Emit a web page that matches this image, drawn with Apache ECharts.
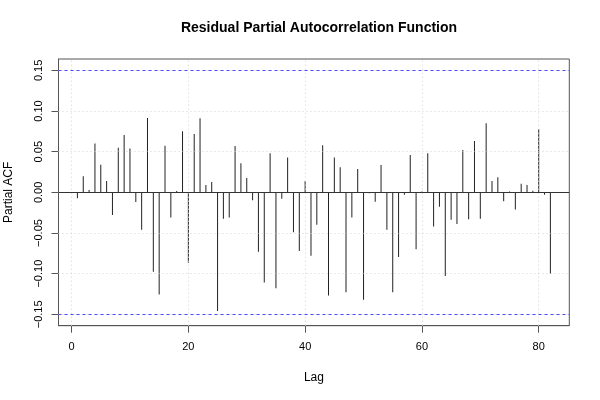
<!DOCTYPE html>
<html><head><meta charset="utf-8">
<script src="https://cdn.jsdelivr.net/npm/echarts@6/dist/echarts.min.js"></script>
<style>html,body{margin:0;padding:0;background:#fff}#c{width:600px;height:400px}</style>
</head><body><div id="c"></div>
<script>
const lags = [];
for (let i = 1; i <= 82; i++) lags.push(i);
const pacf = [
 -0.0074, 0.0197, 0.003, 0.060, 0.034, 0.014, -0.028, 0.055, 0.0705, 0.054,
 -0.012, -0.046, 0.0914, -0.0976, -0.1255, 0.0574, -0.031, 0.0016, 0.075, -0.0865,
 0.0718, 0.091, 0.009, 0.0127, -0.146, -0.0324, -0.031, 0.057, 0.0357, 0.0176,
 -0.0098, -0.073, -0.111, 0.048, -0.118, -0.0078, 0.043, -0.049, -0.072, 0.014,
 -0.078, -0.040, 0.058, -0.127, 0.043, 0.031, -0.123, -0.031, 0.0287, -0.132,
 -0.001, -0.0115, 0.0336, -0.046, -0.123, -0.0795, -0.003, 0.046, -0.070, 0.001,
 0.048, -0.042, -0.0176, -0.103, -0.0336, -0.039, 0.052, -0.033, 0.063, -0.0324,
 0.085, 0.014, 0.0185, -0.011, 0.001, -0.021, 0.0107, 0.009, 0.002, 0.078,
 -0.003, -0.100
];
const xTicks = [0, 20, 40, 60, 80];
const yTicks = [-0.15, -0.10, -0.05, 0.00, 0.05, 0.10, 0.15];
const ciBound = 0.152;

const fmtY = v => {
  const s = Math.abs(v).toFixed(2);
  return (v < -1e-9 ? '\u2212' : '') + s;
};
const gridLines = [];
xTicks.forEach(v => gridLines.push({xAxis: v}));
yTicks.forEach(v => gridLines.push({yAxis: v}));

const chart = echarts.init(document.getElementById('c'), null, {renderer: 'canvas'});
chart.setOption({
  animation: false,
  backgroundColor: '#fff',
  title: {
    text: 'Residual Partial Autocorrelation Function',
    left: 314, textAlign: 'center', top: 16,
    textStyle: {fontFamily: 'Liberation Sans', fontWeight: 'bold', fontSize: 14, color: '#000'}
  },
  grid: {left: 58.5, right: 30.7, top: 59, bottom: 74.3, containLabel: false, outerBoundsMode: 'none',
         show: true, borderColor: '#555', borderWidth: 1, backgroundColor: 'transparent'},
  xAxis: {
    type: 'value', min: -2.24, max: 85.24,
    name: 'Lag', nameLocation: 'middle', nameGap: 46,
    nameTextStyle: {fontFamily: 'Liberation Sans', fontSize: 12, color: '#000'},
    axisLine: {show: true, onZero: false, lineStyle: {color: '#555'}},
    axisTick: {show: true, length: 7, inside: false, customValues: xTicks, lineStyle: {color: '#555'}},
    axisLabel: {customValues: xTicks, margin: 16, fontFamily: 'Liberation Sans', fontSize: 11, color: '#000'},
    splitLine: {show: false}
  },
  yAxis: {
    type: 'value', min: -0.164, max: 0.164,
    name: 'Partial ACF', nameLocation: 'middle', nameGap: 44, nameRotate: 90,
    nameTextStyle: {fontFamily: 'Liberation Sans', fontSize: 12, color: '#000'},
    axisLine: {show: true, onZero: false, lineStyle: {color: '#555'}},
    axisTick: {show: true, length: 7, inside: false, customValues: yTicks, lineStyle: {color: '#555'}},
    axisLabel: {customValues: yTicks, rotate: 90, margin: 14, fontFamily: 'Liberation Sans', fontSize: 11, color: '#000', formatter: fmtY},
    splitLine: {show: false}
  },
  series: [
    {
      type: 'line', data: [], silent: true,
      markLine: {
        silent: true, symbol: 'none', label: {show: false},
        lineStyle: {color: '#d3d3d3', type: [1, 3], width: 1},
        data: gridLines
      }
    },
    {
      type: 'bar', barWidth: 1,
      data: lags.map((l, i) => [l, pacf[i]]),
      itemStyle: {color: '#222'},
      markLine: {
        silent: true, symbol: 'none', label: {show: false},
        data: [
          {yAxis: 0, lineStyle: {color: '#333', type: 'solid', width: 1}},
          {yAxis: ciBound, lineStyle: {color: '#4d4dff', type: [3, 3], width: 1}},
          {yAxis: -ciBound, lineStyle: {color: '#4d4dff', type: [3, 3], width: 1}}
        ]
      }
    }
  ]
});
</script></body></html>
